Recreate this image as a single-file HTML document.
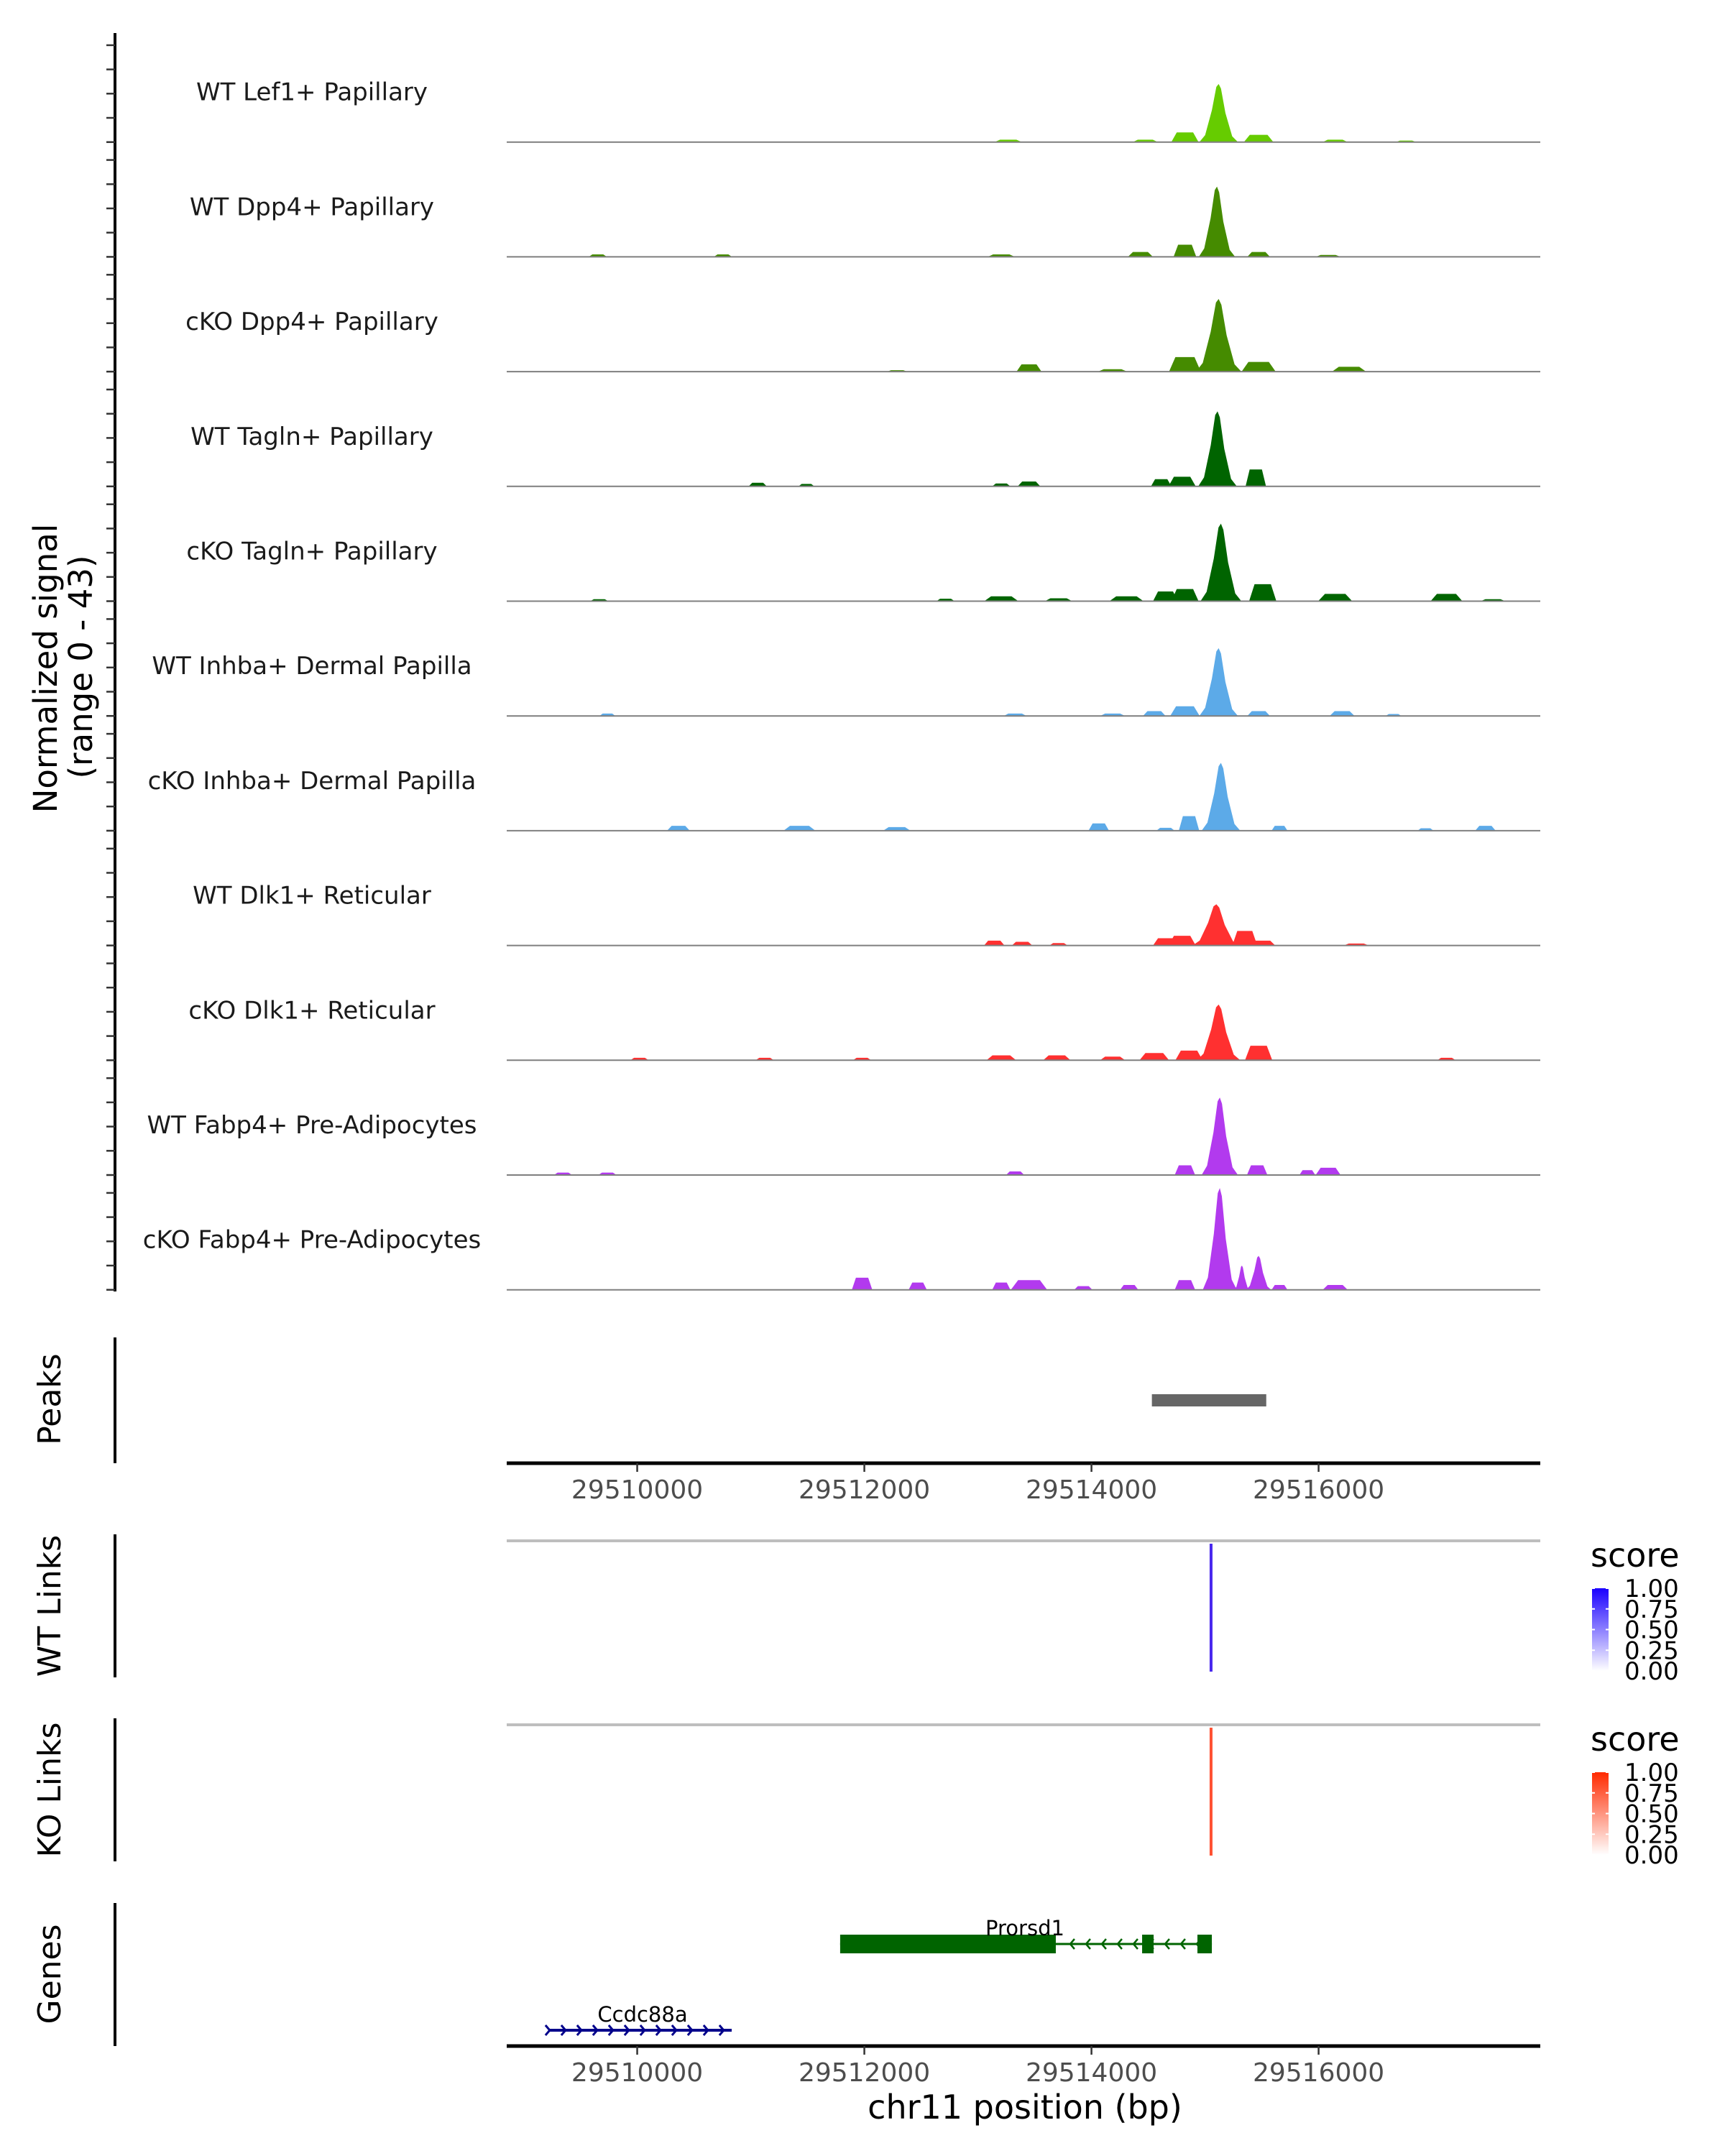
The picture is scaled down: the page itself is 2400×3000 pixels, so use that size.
<!DOCTYPE html>
<html><head><meta charset="utf-8"><style>
html,body{margin:0;padding:0;background:#fff}
svg{display:block;font-family:"DejaVu Sans","Liberation Sans",sans-serif}
</style></head><body>
<svg id="chart" width="2400" height="3000" viewBox="0 0 2400 3000" xmlns="http://www.w3.org/2000/svg">
<g id="tracks"></g>
<g id="left-axis"></g>
<text transform="translate(79,930) rotate(-90)" text-anchor="middle" font-size="45" fill="#000">Normalized signal</text>
<text transform="translate(128,928) rotate(-90)" text-anchor="middle" font-size="45" fill="#000">(range 0 - 43)</text>
<g id="peaks"></g>
<g id="links"></g>
<g id="genes"></g>
</svg>
<script>
const NS='http://www.w3.org/2000/svg';
const trackNames=['WT Lef1+ Papillary','WT Dpp4+ Papillary','cKO Dpp4+ Papillary','WT Tagln+ Papillary','cKO Tagln+ Papillary','WT Inhba+ Dermal Papilla','cKO Inhba+ Dermal Papilla','WT Dlk1+ Reticular','cKO Dlk1+ Reticular','WT Fabp4+ Pre-Adipocytes','cKO Fabp4+ Pre-Adipocytes'];
const trackColors=['#66cc00','#458b00','#458b00','#006400','#006400','#5caae8','#5caae8','#ff3030','#ff3030','#b23aee','#b23aee'];
// signal blips: [bp, height (0-43), half width bp]
const sigLef1=[[29515120,24,170],[29514823,4,120],[29515472,3,130],[29513267,1,120],[29516146,1,110],[29516770,0.6,90],[29514474,1,110]];
const sigDpp4WT=[[29515105,29,160],[29514823,5,100],[29515472,2,100],[29514431,2,110],[29513206,1,120],[29509653,1,80],[29510755,1,80],[29516084,0.8,110]];
const sigDpp4KO=[[29515120,30,200],[29514823,6,140],[29515472,4,150],[29513450,3,110],[29516268,2,150],[29514186,1,130],[29512289,0.6,90]];
const sigTaglnWT=[[29515110,31,170],[29515447,7,90],[29514798,4,120],[29514614,3,90],[29513450,2,100],[29511061,1.5,80],[29511490,1,70],[29513206,1.2,80]];
const sigTaglnKO=[[29515140,32,180],[29515508,7,120],[29514823,5,120],[29514652,4,110],[29516146,3,150],[29517126,3,140],[29513206,2,150],[29514308,2,150],[29512715,1,80],[29513710,1.2,120],[29509666,0.8,80],[29517535,0.8,110]];
const sigInhbaWT=[[29515120,28,170],[29514823,4,130],[29515472,2,100],[29514553,2,100],[29516207,2,110],[29514186,1,110],[29513328,1,100],[29509738,1,70],[29516660,0.8,70]];
const sigInhbaKO=[[29515140,28,170],[29514859,6,90],[29514064,3,90],[29517469,2,90],[29511429,2,140],[29510363,2,100],[29515656,2,70],[29512286,1.5,120],[29516942,1,70],[29514652,1.2,80]];
const sigDlk1WT=[[29515100,17,210],[29515350,6,110],[29514798,4,120],[29514652,3,110],[29513144,2,90],[29513389,1.5,90],[29515508,2,110],[29513710,1,80],[29516332,0.8,110]];
const sigDlk1KO=[[29515120,23,190],[29515472,6,120],[29514859,4,120],[29514553,3,130],[29513206,2,130],[29513695,2,120],[29510020,1,80],[29511123,1,80],[29517126,1,80],[29511980,1,80],[29514186,1.5,110]];
const sigFabp4WT=[[29515130,32,160],[29515459,4,90],[29514823,4,90],[29516084,3,110],[29513328,1.5,80],[29515901,2,70],[29509347,1,80],[29509738,1,80]];
const sigFabp4KO=[[29515130,42,150],[29515472,14,110],[29515325,10,70],[29511980,5,90],[29514823,4,90],[29513450,4,160],[29512470,3,80],[29513206,3,80],[29514332,2,80],[29515656,2,70],[29516146,2,110],[29513928,1.5,80]];
const signals=[sigLef1,sigDpp4WT,sigDpp4KO,sigTaglnWT,sigTaglnKO,sigInhbaWT,sigInhbaKO,sigDlk1WT,sigDlk1KO,sigFabp4WT,sigFabp4KO];
const xTicks=[29510000,29512000,29514000,29516000];
const peakRegions=[[29514532,29515539]];
const linkPositions=[29515053];
const linkScoresWT=[0.95];
const linkScoresKO=[0.85];
const legendTicks=['1.00','0.75','0.50','0.25','0.00'];
const geneProrsd1Exons=[[29511787,29513686],[29514446,29514547],[29514933,29515060]];
const geneProrsd1Span=[29511787,29515060];
const geneCcdc88aSpan=[29509230,29510832];

const X0=705,X1=2143,BP0=29508851,BP1=29517952;
const xs=bp=>X0+(bp-BP0)/(BP1-BP0)*(X1-X0);
const TRACK_B0=197.7,TRACK_STEP=159.7,UNIT=3.37;
function mk(tag,attrs,parent){const e=document.createElementNS(NS,tag);for(const k in attrs)e.setAttribute(k,attrs[k]);parent.appendChild(e);return e;}

const tracks=document.getElementById('tracks');
signals.forEach((sig,i)=>{
  const base=TRACK_B0+i*TRACK_STEP;
  const g=mk('g',{},tracks);
  
  
  const t=mk('text',{x:434,y:base-58,'text-anchor':'middle','font-size':34,fill:'#1a1a1a'},g);
  t.textContent=trackNames[i];
  
  
  sig.forEach(b=>{
    const [bp,h,w]=b;
    const xl=xs(bp-w),xr=xs(bp+w),xc=xs(bp),y=base-h*UNIT,H=h*UNIT;
    const big=h>8;
    const pts=big?`${xl},${base} ${xs(bp-w*0.7)},${base-H*0.12} ${xs(bp-w*0.35)},${base-H*0.55} ${xs(bp-w*0.12)},${y+H*0.05} ${xc},${y} ${xs(bp+w*0.12)},${y+H*0.08} ${xs(bp+w*0.35)},${base-H*0.5} ${xs(bp+w*0.7)},${base-H*0.1} ${xr},${base}`
      :`${xl},${base} ${xs(bp-w*0.6)},${y} ${xs(bp+w*0.6)},${y} ${xr},${base}`;
    const p=mk('polygon',{points:pts,fill:trackColors[i]},g);
    
    
  });
  const l=mk('line',{x1:X0,x2:X1,y1:base,y2:base,stroke:'#7f7f7f','stroke-width':2},g);
  
  
});
// left axis
const la=document.getElementById('left-axis');
mk('line',{x1:160,x2:160,y1:46,y2:1797,stroke:'#000','stroke-width':4},la);
for(let i=0;i<signals.length;i++){const base=TRACK_B0+i*TRACK_STEP;for(let k=0;k<5;k++){const y=base-k*10*UNIT;mk('line',{x1:148,x2:160,y1:y,y2:y,stroke:'#333','stroke-width':2.5},la);}}

function sideLabel(txt,y,name,parent){const t=mk('text',{transform:`translate(84,${y}) rotate(-90)`,'text-anchor':'middle','font-size':44,fill:'#000'},parent);t.textContent=txt;}
function xAxis(y,parent){mk('line',{x1:X0,x2:X1,y1:y,y2:y,stroke:'#000','stroke-width':5},parent);
  xTicks.forEach(v=>{mk('line',{x1:xs(v),x2:xs(v),y1:y,y2:y+12,stroke:'#333','stroke-width':2.5},parent);
  const t=mk('text',{x:xs(v),y:y+49,'text-anchor':'middle','font-size':36,fill:'#4d4d4d'},parent);t.textContent=v;
  
  });}

// peaks
const pk=document.getElementById('peaks');
mk('line',{x1:160,x2:160,y1:1861,y2:2036,stroke:'#000','stroke-width':4},pk);
sideLabel('Peaks',1947,'peaks-title',pk);
peakRegions.forEach(r=>{const rc=mk('rect',{x:xs(r[0]),y:1940,width:xs(r[1])-xs(r[0]),height:17,fill:'#666'},pk);

});
xAxis(2036,pk);

// links
const lk=document.getElementById('links');
function linkPanel(top,bot,title,scores,col,gradId,c1){
  mk('line',{x1:160,x2:160,y1:top,y2:bot,stroke:'#000','stroke-width':4},lk);
  sideLabel(title,(top+bot)/2,title.toLowerCase().replace(' ','-')+'-title',lk);
  mk('line',{x1:X0,x2:X1,y1:top+9,y2:top+9,stroke:'#bebebe','stroke-width':4},lk);
  linkPositions.forEach((p,j)=>{const l=mk('line',{x1:xs(p),x2:xs(p),y1:top+13,y2:bot-8,stroke:col,'stroke-width':4,opacity:0.5+scores[j]/2},lk);
  
  });
  const defs=mk('defs',{},lk);const gr=mk('linearGradient',{id:gradId,x1:0,y1:1,x2:0,y2:0},defs);
  mk('stop',{offset:0,'stop-color':'#fff'},gr);mk('stop',{offset:1,'stop-color':c1},gr);
  const st=mk('text',{x:2213,y:top+45,'font-size':46,fill:'#000'},lk);st.textContent='score';
  
  
  const by=top+75,bh=115;
  mk('rect',{x:2215,y:by,width:23,height:bh,fill:`url(#${gradId})`},lk);
  legendTicks.forEach((v,k)=>{const y=by+k*bh/4;
    mk('line',{x1:2215,x2:2219,y1:y,y2:y,stroke:'#fff','stroke-width':2},lk);mk('line',{x1:2234,x2:2238,y1:y,y2:y,stroke:'#fff','stroke-width':2},lk);
    const t=mk('text',{x:2260,y:y+12,'font-size':34,fill:'#000'},lk);t.textContent=v;
    
    });
}
linkPanel(2135,2334,'WT Links',linkScoresWT,'#4422ee','gwt','#1a00ff');
linkPanel(2391,2590,'KO Links',linkScoresKO,'#ff4422','gko','#ff2a00');

// genes
const gn=document.getElementById('genes');
mk('line',{x1:160,x2:160,y1:2648,y2:2847,stroke:'#000','stroke-width':4},gn);
sideLabel('Genes',2747,'genes-title',gn);
const gy=2705;
mk('line',{x1:xs(geneProrsd1Span[0]),x2:xs(geneProrsd1Span[1]),y1:gy,y2:gy,stroke:'#006400','stroke-width':3},gn);
for(let x=xs(geneProrsd1Exons[0][1])+20;x<xs(geneProrsd1Span[1])-10;x+=22){mk('polyline',{points:`${x+6},${gy-7} ${x},${gy} ${x+6},${gy+7}`,fill:'none',stroke:'#006400','stroke-width':2.5},gn);}
geneProrsd1Exons.forEach(e=>{const r=mk('rect',{x:xs(e[0]),y:gy-13,width:Math.max(16,xs(e[1])-xs(e[0])),height:26,fill:'#006400'},gn);

});
const t1=mk('text',{x:1426,y:2693,'text-anchor':'middle','font-size':29,fill:'#000'},gn);t1.textContent='Prorsd1';


const cy=2825;
mk('line',{x1:xs(geneCcdc88aSpan[0]),x2:xs(geneCcdc88aSpan[1]),y1:cy,y2:cy,stroke:'#00008b','stroke-width':4},gn);
for(let x=xs(geneCcdc88aSpan[0]);x<=xs(geneCcdc88aSpan[1]);x+=22){mk('polyline',{points:`${x-6},${cy-7} ${x},${cy} ${x-6},${cy+7}`,fill:'none',stroke:'#00008b','stroke-width':3},gn);}
const t2=mk('text',{x:894,y:2813,'text-anchor':'middle','font-size':29,fill:'#000'},gn);t2.textContent='Ccdc88a';


xAxis(2847,gn);
const xt=mk('text',{x:1426,y:2948,'text-anchor':'middle','font-size':46,fill:'#000'},gn);xt.textContent='chr11 position (bp)';


</script>
</body></html>
